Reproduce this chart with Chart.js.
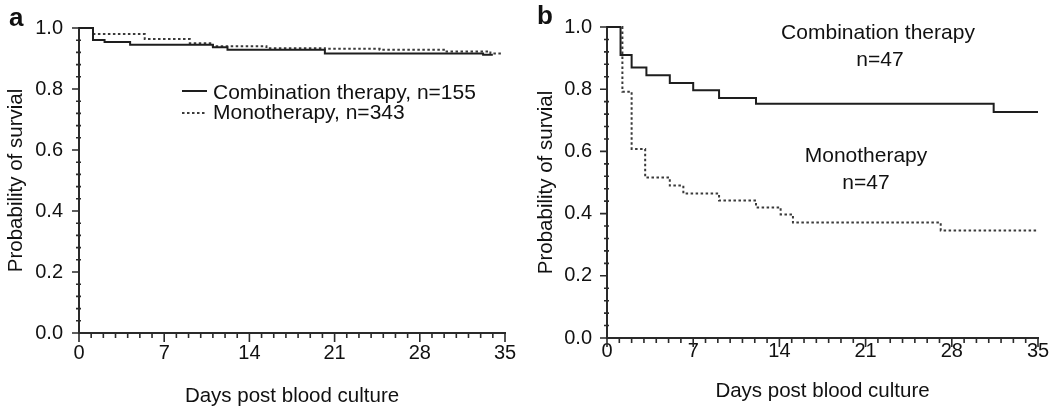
<!DOCTYPE html>
<html lang="en">
<head>
    <meta charset="UTF-8">
    <title>Survival curves</title>
    <script src="https://cdn.jsdelivr.net/npm/chart.js"></script>
    <style>
        body { margin: 0; background: #fff; }
        .panel { position: absolute; top: 0; height: 411px; }
    </style>
</head>
<body>
    <div class="panel" style="left:0;width:530px"><canvas id="chartA"></canvas></div>
    <div class="panel" style="left:530px;width:534px"><canvas id="chartB"></canvas></div>

    <script>
        // tick labels
        const xTicks = [0, 7, 14, 21, 28, 35];
        const yTicks = [0, 0.2, 0.4, 0.6, 0.8, 1.0];

        // panel a
        const comboDaysA = [0, 1.15, 2.1, 4.2, 11.0, 12.2, 20.2, 33.2, 34.0];
        const comboSurvA = [1, 0.961, 0.954, 0.945, 0.937, 0.929, 0.916, 0.912, 0.912];
        const monoDaysA = [0, 1.15, 5.4, 9.1, 11.0, 15.4, 20.2, 24.7, 30.2, 33.8, 34.8];
        const monoSurvA = [1, 0.980, 0.964, 0.950, 0.940, 0.934, 0.932, 0.929, 0.923, 0.916, 0.916];

        // panel b
        const comboDaysB = [0, 1.1, 2.0, 3.2, 5.1, 7.0, 9.1, 12.1, 31.4, 35];
        const comboSurvB = [1, 0.91, 0.87, 0.845, 0.82, 0.797, 0.772, 0.753, 0.727, 0.727];
        const monoDaysB = [0, 1.25, 2.0, 3.1, 5.1, 6.2, 9.1, 12.1, 14.1, 15.1, 27.1, 35];
        const monoSurvB = [1, 0.792, 0.608, 0.516, 0.49, 0.465, 0.442, 0.42, 0.397, 0.371, 0.346, 0.346];

        const FONT = 'Liberation Sans, Arial, Helvetica, sans-serif';
        const AXIS = '#2a2a2a';
        const SOLID = '#1e1e1e';
        const DOTTED = '#3a3a3a';
        const DASH = [2.5, 2.5];

        function pts(days, surv) {
            return days.map((d, i) => ({ x: d, y: surv[i] }));
        }

        // axis tick marks (major + minor) drawn on the scales, plus text notes
        const decor = {
            id: 'decor',
            afterDraw(chart, args, opts) {
                const ctx = chart.ctx;
                const xs = chart.scales.x, ys = chart.scales.y;
                const ax = ys.right, ay = xs.top;
                ctx.save();
                ctx.strokeStyle = AXIS;
                ctx.lineWidth = 1.6;
                ctx.beginPath();
                for (let v = 0; v <= 1.0001; v += 0.04) {
                    const py = ys.getPixelForValue(v);
                    const major = Math.abs(v * 5 - Math.round(v * 5)) < 1e-6;
                    ctx.moveTo(major ? ax - 7 : ax - 3, py);
                    ctx.lineTo(major ? ax : ax + 2, py);
                }
                for (let d = 0; d <= 35; d++) {
                    const px = xs.getPixelForValue(d);
                    ctx.moveTo(px, ay);
                    ctx.lineTo(px, ay + (d % 7 === 0 ? 9 : 5));
                }
                ctx.stroke();

                ctx.fillStyle = '#111';
                ctx.textBaseline = 'middle';
                ctx.font = 'bold 26px ' + FONT;
                ctx.textAlign = 'left';
                ctx.fillText(opts.tag, opts.tagX, opts.tagY);

                ctx.font = '21px ' + FONT;
                (opts.notes || []).forEach(n => {
                    ctx.textAlign = n.align || 'center';
                    ctx.fillText(n.text, n.x, n.y);
                });
                (opts.keys || []).forEach(k => {
                    ctx.strokeStyle = k.color;
                    ctx.lineWidth = 2;
                    ctx.setLineDash(k.dash);
                    ctx.beginPath();
                    ctx.moveTo(k.x0, k.y);
                    ctx.lineTo(k.x1, k.y);
                    ctx.stroke();
                });
                ctx.restore();
            }
        };

        function makeChart(id, combo, mono, o) {
            return new Chart(document.getElementById(id), {
                type: 'line',
                data: {
                    datasets: [
                        { label: 'Combination therapy', data: combo, stepped: true,
                          borderColor: SOLID, borderWidth: 2, pointRadius: 0, clip: 4 },
                        { label: 'Monotherapy', data: mono, stepped: true,
                          borderColor: DOTTED, borderWidth: 2, borderDash: DASH,
                          pointRadius: 0, clip: 4 }
                    ]
                },
                options: {
                    responsive: true,
                    maintainAspectRatio: false,
                    animation: false,
                    layout: { padding: { left: 0, right: o.padRight, top: o.padTop, bottom: 0 } },
                    plugins: {
                        legend: { display: false },
                        tooltip: { enabled: false },
                        decor: o.decor
                    },
                    scales: {
                        x: {
                            type: 'linear', min: 0, max: 35,
                            afterBuildTicks: s => { s.ticks = xTicks.map(v => ({ value: v })); },
                            afterFit: s => { s.height = o.xHeight; },
                            grid: { drawOnChartArea: false, drawTicks: false },
                            border: { color: AXIS, width: 2 },
                            ticks: { color: '#111', padding: o.xPad, maxRotation: 0,
                                     font: { family: FONT, size: 20 } },
                            title: { display: true, text: 'Days post blood culture', color: '#111',
                                     padding: { top: 0, bottom: o.xTitlePad },
                                     font: { family: FONT, size: 20.5 } }
                        },
                        y: {
                            min: 0, max: 1,
                            afterBuildTicks: s => { s.ticks = yTicks.map(v => ({ value: v })); },
                            afterFit: s => { s.width = o.yWidth; },
                            grid: { drawOnChartArea: false, drawTicks: false },
                            border: { color: AXIS, width: 2 },
                            ticks: { color: '#111', padding: o.yPad,
                                     callback: v => v.toFixed(1),
                                     font: { family: FONT, size: 20 } },
                            title: { display: true, text: 'Probability of survial', color: '#111',
                                     padding: { top: 4, bottom: 0 },
                                     font: { family: FONT, size: 20.5 } }
                        }
                    }
                },
                plugins: [decor]
            });
        }

        makeChart('chartA', pts(comboDaysA, comboSurvA), pts(monoDaysA, monoSurvA), {
            padRight: 25, padTop: 25, xHeight: 78, yWidth: 79, xPad: 8, yPad: 16, xTitlePad: 2,
            decor: {
                tag: 'a', tagX: 9, tagY: 19,
                notes: [
                    { text: 'Combination therapy, n=155', x: 213, y: 93, align: 'left' },
                    { text: 'Monotherapy, n=343', x: 213, y: 113, align: 'left' }
                ],
                keys: [
                    { x0: 182, x1: 207, y: 91, color: SOLID, dash: [] },
                    { x0: 182, x1: 207, y: 113, color: DOTTED, dash: DASH }
                ]
            }
        });

        makeChart('chartB', pts(comboDaysB, comboSurvB), pts(monoDaysB, monoSurvB), {
            padRight: 26, padTop: 22, xHeight: 73, yWidth: 77, xPad: 1, yPad: 15, xTitlePad: 7,
            decor: {
                tag: 'b', tagX: 7, tagY: 17,
                notes: [
                    { text: 'Combination therapy', x: 348, y: 33 },
                    { text: 'n=47', x: 350, y: 60 },
                    { text: 'Monotherapy', x: 336, y: 156 },
                    { text: 'n=47', x: 336, y: 183 }
                ]
            }
        });
    </script>
</body>
</html>
